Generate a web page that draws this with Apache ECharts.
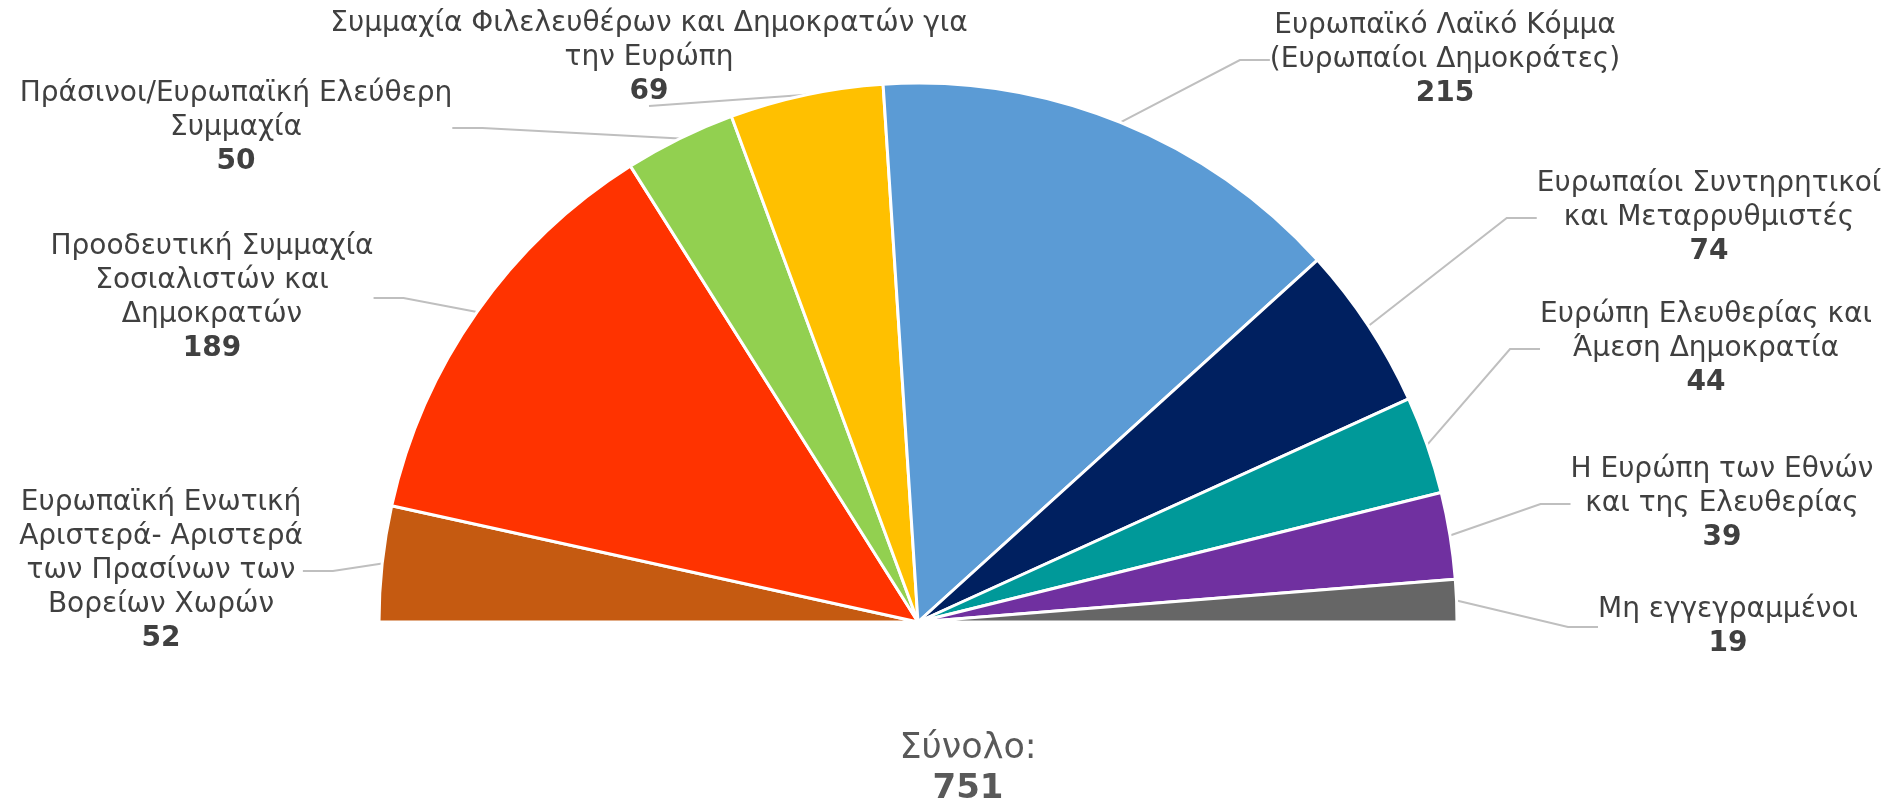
<!DOCTYPE html>
<html>
<head>
<meta charset="utf-8">
<script src="https://cdn.jsdelivr.net/npm/echarts@6/dist/echarts.min.js"></script>
<style>
  html, body { margin: 0; padding: 0; background: #fff; }
  #chart { width: 1888px; height: 804px; }
</style>
</head>
<body>
<div id="chart"></div>
<script>
// groups, left to right around the half circle
const groups = [
  'Ευρωπαϊκή Ενωτική\nΑριστερά- Αριστερά\nτων Πρασίνων των\nΒορείων Χωρών',
  'Προοδευτική Συμμαχία\nΣοσιαλιστών και\nΔημοκρατών',
  'Πράσινοι/Ευρωπαϊκή Ελεύθερη\nΣυμμαχία',
  'Συμμαχία Φιλελευθέρων και Δημοκρατών για\nτην Ευρώπη',
  'Ευρωπαϊκό Λαϊκό Κόμμα\n(Ευρωπαίοι Δημοκράτες)',
  'Ευρωπαίοι Συντηρητικοί\nκαι Μεταρρυθμιστές',
  'Ευρώπη Ελευθερίας και\nΆμεση Δημοκρατία',
  'Η Ευρώπη των Εθνών\nκαι της Ελευθερίας',
  'Μη εγγεγραμμένοι'
]

const seats = [52, 189, 50, 69, 215, 74, 44, 39, 19]

const colors = [
  '#C55A11', '#FF3300', '#92D050', '#FFC000', '#5B9BD5',
  '#002060', '#009999', '#7030A0', '#666666'
]

const total = seats.reduce((a, b) => a + b, 0)

// where each label block sits (center x, top y)
const labelPos = [
  [161, 486], [212, 230], [236, 77], [649, 7], [1445, 9],
  [1709, 167], [1706, 298], [1722, 453], [1728, 593]
]

const chart = echarts.init(document.getElementById('chart'))

chart.setOption({
  backgroundColor: '#fff',
  animation: false,
  textStyle: { fontFamily: 'DejaVu Sans' },
  graphic: [{
    type: 'text',
    x: 968,
    y: 729,
    style: {
      text: '{a|Σύνολο:}\n{b|' + total + '}',
      align: 'center',
      verticalAlign: 'top',
      rich: {
        a: { fontSize: 35, fill: '#595959', lineHeight: 40, align: 'center', fontFamily: 'DejaVu Sans' },
        b: { fontSize: 34, fontWeight: 'bold', fill: '#595959', lineHeight: 40, align: 'center', fontFamily: 'DejaVu Sans' }
      }
    }
  }],
  series: [{
    type: 'pie',
    center: [918, 622],
    radius: [0, 539],
    startAngle: 180,
    endAngle: 0,
    clockwise: true,
    itemStyle: { borderColor: '#fff', borderWidth: 3 },
    label: {
      show: true,
      position: 'outside',
      formatter: p => '{n|' + p.name.split('\n').join('}\n{n|') + '}\n{v|' + p.value + '}',
      rich: {
        n: { fontSize: 28, color: '#404040', lineHeight: 34, align: 'center' },
        v: { fontSize: 28, fontWeight: 'bold', color: '#404040', lineHeight: 34, align: 'center' }
      }
    },
    labelLine: {
      show: true,
      lineStyle: { color: '#bfbfbf', width: 2 }
    },
    labelLayout: p => ({
      x: labelPos[p.dataIndex][0],
      y: labelPos[p.dataIndex][1],
      align: 'center',
      verticalAlign: 'top'
    }),
    data: groups.map((name, i) => ({
      name,
      value: seats[i],
      itemStyle: { color: colors[i] }
    }))
  }]
})
</script>
</body>
</html>
